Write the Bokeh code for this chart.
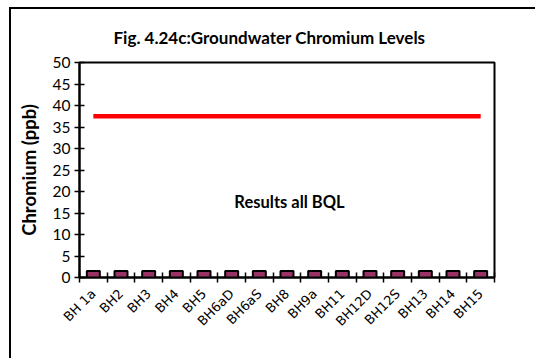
from bokeh.plotting import figure
from bokeh.models import Range1d, FixedTicker, LinearAxis, Label
from bokeh.embed import file_html
from bokeh.resources import INLINE
import math

# Borehole sites and chromium results (all below quantification limit -> 0)
sites = ["BH 1a", "BH2", "BH3", "BH4", "BH5", "BH6aD", "BH6aS", "BH8",
         "BH9a", "BH11", "BH12D", "BH12S", "BH13", "BH14", "BH15"]
chromium = [0, 0, 0, 0, 0, 0, 0, 0, 0, 0, 0, 0, 0, 0, 0]
limit = [37.5, 37.5, 37.5, 37.5, 37.5, 37.5, 37.5, 37.5, 37.5, 37.5,
         37.5, 37.5, 37.5, 37.5, 37.5]
y_ticks = [0, 5, 10, 15, 20, 25, 30, 35, 40, 45, 50]

centers = [i + 0.5 for i in range(len(sites))]
bounds = list(range(len(sites) + 1))

# chart-area border (left and top edges) painted behind a transparent canvas
chart_area = {
    "background-color": "white",
    "background-image": "linear-gradient(#000, #000), linear-gradient(#000, #000)",
    "background-size": "2px 100%, 100% 2px",
    "background-position": "9px 7px, 9px 7px",
    "background-repeat": "no-repeat",
}

p = figure(width=535, height=358, output_backend="svg", toolbar_location=None,
           x_range=Range1d(0, len(sites)), y_range=Range1d(0, 50),
           x_axis_type=None, y_axis_type=None,
           min_border_left=79, min_border_right=41,
           min_border_top=62, min_border_bottom=81,
           styles=chart_area)
p.grid.visible = False
p.background_fill_color = "white"
p.border_fill_color = None
p.outline_line_color = "black"
p.outline_line_width = 2

# trailing empty line lifts the title a little above the plot area
p.title.text = "Fig. 4.24c:Groundwater Chromium Levels\n"
p.title.align = "left"
p.title.text_font = "Lato"
p.title.text_font_style = "bold"
p.title.text_font_size = "17px"
p.title.text_line_height = 0.45
p.title.text_color = "black"
p.title.offset = 34

# y axis
yax = LinearAxis(ticker=FixedTicker(ticks=y_ticks))
yax.axis_line_width = 2
yax.axis_line_color = "black"
yax.major_tick_in = 5
yax.major_tick_out = 5
yax.major_tick_line_width = 1.5
yax.minor_tick_line_color = None
yax.major_label_text_font = "Lato"
yax.major_label_text_font_size = "15.5px"
yax.major_label_text_color = "black"
yax.major_label_standoff = 4
yax.axis_label = "Chromium (ppb)"
yax.axis_label_text_font = "Lato"
yax.axis_label_text_font_style = "bold"
yax.axis_label_text_font_size = "18.5px"
yax.axis_label_text_color = "black"
yax.axis_label_standoff = 10
p.add_layout(yax, "left")

# x axis: tick marks between categories (no labels of its own)
xax = LinearAxis(ticker=FixedTicker(ticks=bounds))
xax.axis_line_width = 2
xax.axis_line_color = "black"
xax.major_tick_in = 5
xax.major_tick_out = 5
xax.major_tick_line_width = 1.5
xax.minor_tick_line_color = None
xax.major_label_text_font_size = "1px"
xax.major_label_text_color = None
xax.major_label_standoff = 0
p.add_layout(xax, "below")

# x axis: category names at the centres
xlab = LinearAxis(ticker=FixedTicker(ticks=centers),
                  major_label_overrides={c: s for c, s in zip(centers, sites)})
xlab.axis_line_color = None
xlab.major_tick_line_color = None
xlab.minor_tick_line_color = None
xlab.major_label_orientation = math.pi / 4
xlab.major_label_text_font = "DejaVu Sans"
xlab.major_label_text_font_size = "13px"
xlab.major_label_text_color = "black"
xlab.major_label_standoff = 3
p.add_layout(xlab, "below")

# guideline series
p.line(centers, limit, line_color="#FF0000", line_width=4.5)

# results (BQL)
p.scatter(centers, chromium, marker="square", size=13,
          fill_color="#993366", line_color="black", line_width=2)

p.add_layout(Label(x=7.59, y=17.5, text="Results all BQL", text_align="center",
                   text_baseline="middle", text_font="Lato",
                   text_font_style="bold", text_font_size="16.5px",
                   text_color="black"))

open("out.html", "w").write(file_html(p, INLINE))
